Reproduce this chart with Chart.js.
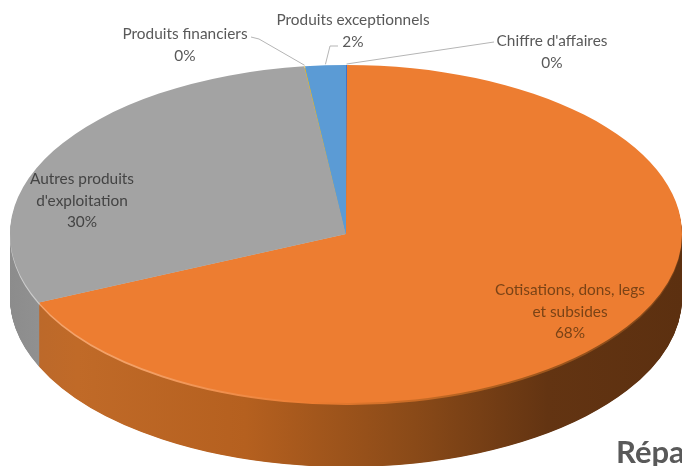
<!DOCTYPE html>
<html>
<head>
<meta charset="utf-8">
<script src="https://cdn.jsdelivr.net/npm/chart.js@4"></script>
<style>
  body { margin: 0; background: #fff; }
  canvas { display: block; }
</style>
</head>
<body>
<canvas id="pieChart" width="682" height="466"></canvas>
<script>
const categories = ["Chiffre d'affaires", "Cotisations, dons, legs et subsides", "Autres produits d'exploitation", "Produits financiers", "Produits exceptionnels"];
const values = [0.05, 68.3, 29.67, 0.03, 1.95];
const percentLabels = ["0%", "68%", "30%", "0%", "2%"];
const colors = ["#4472C4", "#ED7D31", "#A3A3A3", "#FFC000", "#5B9BD5"];
const titleText = "Répa";

// look of the flattened pie
const pie = { cx: 346, cy: 234, rx: 336, ry: 169, depth: 64 };
const labelFont = "15.4px Lato";

// text blocks: lines wrapped like the original, anchor x, first baseline
const labelBlocks = [
  { i: 0, lines: ["Chiffre d'affaires"], x: 552, y: 46, color: "#595959", lead: [[494, 42]] },
  { i: 1, lines: ["Cotisations, dons, legs", "et subsides"], x: 570, y: 295, color: "#7A4316" },
  { i: 2, lines: ["Autres produits", "d'exploitation"], x: 82, y: 184, color: "#444444" },
  { i: 3, lines: ["Produits financiers"], x: 185, y: 39, color: "#595959", lead: [[251, 37], [259, 39]] },
  { i: 4, lines: ["Produits exceptionnels"], x: 353, y: 25, color: "#595959", lead: [[338, 46], [330, 46]] }
];

function sideGradient(ctx, left, right, stops) {
  const g = ctx.createLinearGradient(left, 0, right, 0);
  stops.forEach((s) => g.addColorStop(s[0], s[1]));
  return g;
}

const pie3d = {
  id: "pie3d",
  beforeDatasetsDraw(chart) {
    const ctx = chart.ctx;
    const meta = chart.getDatasetMeta(0);
    const first = meta.data[0];
    const r = first.outerRadius;
    const sy = pie.ry / r;
    ctx.save();
    ctx.translate(pie.cx, pie.cy);
    ctx.scale(pie.rx / r, sy);
    ctx.translate(-first.x, -first.y);

    const left = first.x - r, right = first.x + r;
    const orangeSide = sideGradient(ctx, left, right, [[0, "#B9682C"], [0.1, "#C06A28"], [0.35, "#B5601F"], [0.6, "#8A4A18"], [0.8, "#633412"], [1, "#5C3010"]]);
    const graySide = sideGradient(ctx, left, right, [[0, "#8C8C8C"], [0.1, "#969696"]]);
    const orangeRim = sideGradient(ctx, left, right, [[0, "#F4A56E"], [0.2, "#F3A066"], [0.45, "#ED7D31"], [0.7, "#B0601F"], [1, "#7A4318"]]);
    const grayRim = sideGradient(ctx, left, right, [[0, "#D0D0D0"], [0.06, "#C8C8C8"]]);

    const paint = (dy, orange, gray) => {
      meta.data.forEach((arc, i) => {
        const o = arc.options;
        arc.options = Object.assign({}, o, { backgroundColor: i === 1 ? orange : i === 2 ? gray : colors[i] });
        ctx.save();
        ctx.translate(0, dy / sy);
        arc.draw(ctx);
        ctx.restore();
        arc.options = o;
      });
    };
    for (let d = pie.depth; d > 2; d -= 0.5) paint(d, orangeSide, graySide);
    paint(2, orangeRim, grayRim);
  },
  afterDatasetsDraw(chart) {
    chart.ctx.restore();
  },
  afterDraw(chart) {
    const ctx = chart.ctx;
    const arcs = chart.getDatasetMeta(0).data;
    ctx.save();
    ctx.textAlign = "center";
    ctx.textBaseline = "alphabetic";
    ctx.font = labelFont;
    labelBlocks.forEach((b) => {
      ctx.fillStyle = b.color;
      b.lines.concat(percentLabels[b.i]).forEach((line, n) => {
        ctx.fillText(line, b.x, b.y + n * 21.5);
      });
      if (b.lead) {
        const mid = (arcs[b.i].startAngle + arcs[b.i].endAngle) / 2;
        ctx.strokeStyle = "#B5B5B5";
        ctx.lineWidth = 1;
        ctx.beginPath();
        b.lead.forEach((p, n) => (n ? ctx.lineTo(p[0], p[1]) : ctx.moveTo(p[0], p[1])));
        ctx.lineTo(pie.cx + pie.rx * Math.cos(mid), pie.cy + pie.ry * Math.sin(mid) - 1);
        ctx.stroke();
      }
    });
    ctx.fillStyle = "#595959";
    ctx.textAlign = "left";
    ctx.font = "bold 31px Lato";
    ctx.fillText(titleText, 616, 463);
    ctx.restore();
  }
};

new Chart(document.getElementById("pieChart"), {
  type: "pie",
  data: {
    labels: categories,
    datasets: [{ data: values, backgroundColor: colors, borderWidth: 0, clip: false }]
  },
  options: {
    responsive: false,
    animation: false,
    layout: { padding: 0 },
    plugins: { legend: { display: false }, tooltip: { enabled: false } }
  },
  plugins: [pie3d]
});
</script>
</body>
</html>
